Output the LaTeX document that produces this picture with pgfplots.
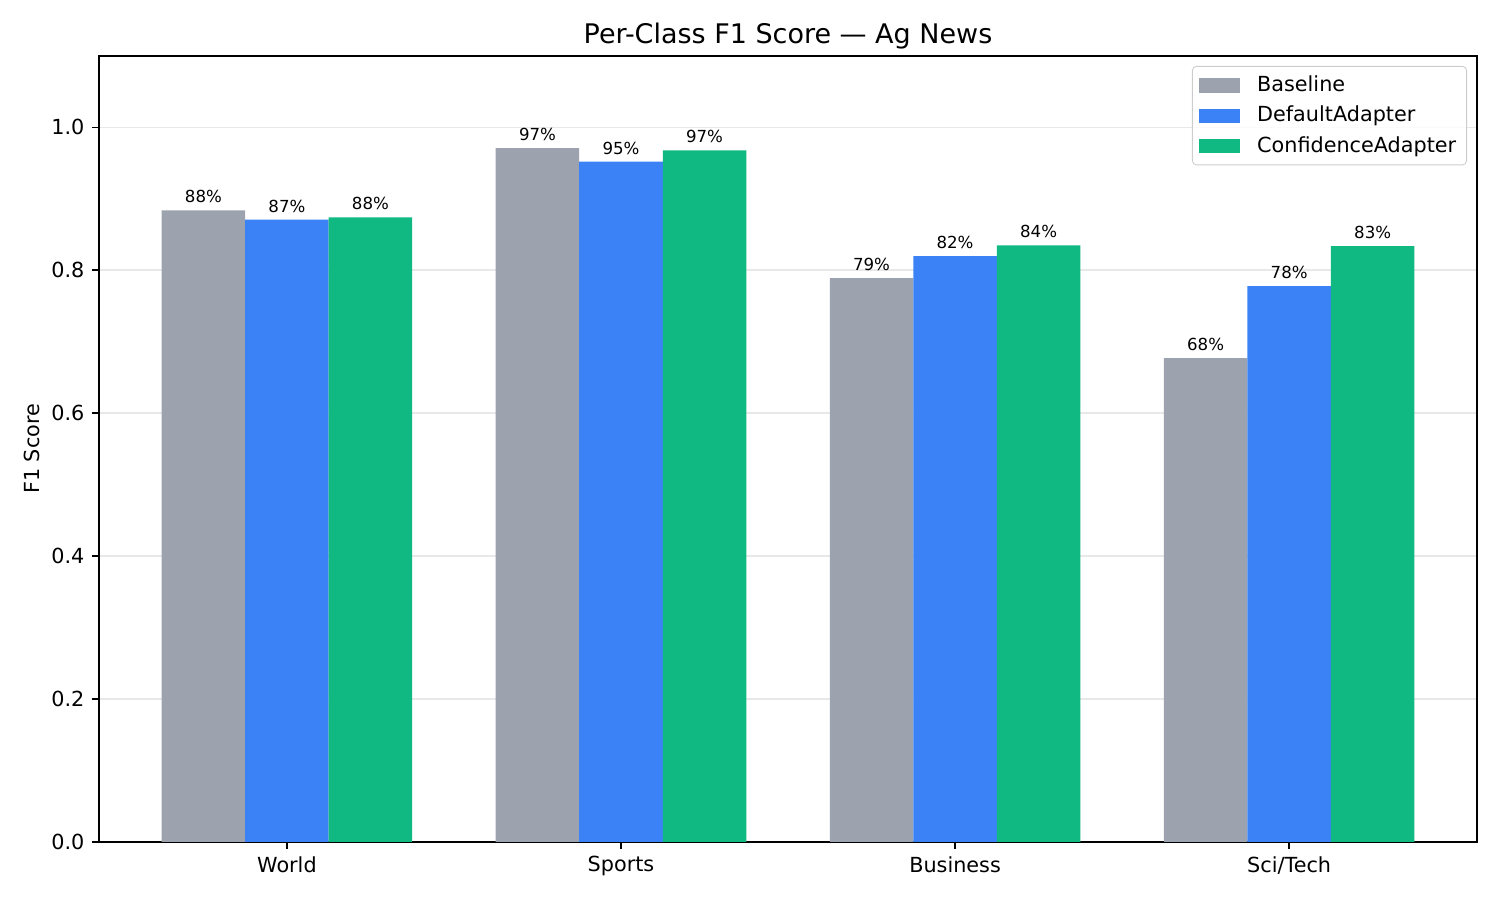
\documentclass[border=0pt]{standalone}
\usepackage{pgfplots}
\pgfplotsset{compat=1.18}
\usepackage{fontspec}
\setmainfont{DejaVu Sans}

\definecolor{cbase}{HTML}{9CA3AF}
\definecolor{cdef}{HTML}{3B82F6}
\definecolor{cconf}{HTML}{10B981}
\definecolor{gridc}{HTML}{E8E8E8}

\begin{document}
\begin{tikzpicture}
\useasboundingbox (-0.66in,-0.387in) rectangle (9.34in,5.613in);
\begin{axis}[
    at={(0,0)}, anchor=south west,
    scale only axis,
    width=9.187in, height=5.24in,
    ybar,
    bar width=0.25,
    xmin=-0.5625, xmax=3.5625,
    ymin=0, ymax=1.1,
    xtick={0,1,2,3},
    xticklabels={World,Sports,Business,Sci/Tech},
    ytick={0,0.2,0.4,0.6,0.8,1.0},
    yticklabel style={/pgf/number format/.cd,fixed,fixed zerofill,precision=1},
    /pgf/number format/assume math mode=true,
    tick label style={font=\fontsize{10}{12}\selectfont},
    tick align=outside,
    tick pos=left,
    major tick length=3.5pt,
    tick style={line width=0.8pt, black},
    axis line style={line width=0.8pt},
    ymajorgrids,
    grid style={gridc, line width=0.8pt},
    title={Per-Class F1 Score — Ag News},
    title style={font=\fontsize{13}{15}\selectfont, at={(0.5,1)}, anchor=base, yshift=0pt},
    ylabel={F1 Score},
    ylabel style={font=\fontsize{10}{12}\selectfont, at={(axis description cs:-0.0486,0.5)}, anchor=center},
    nodes near coords,
    point meta=explicit symbolic,
    every node near coord/.append style={font=\fontsize{8}{9}\selectfont, inner sep=0pt, anchor=south, yshift=3.3pt},
    legend image code/.code={
        \fill[#1, sharp corners, fill opacity=1] (0in,-0.047in) rectangle (0.273in,0.047in);
        \path (0.273in+6.5pt,0);},
    legend cell align=left,
    legend style={at={(0.9927,0.9873)}, anchor=north east,
        draw=black!20, rounded corners=2pt, fill=white, fill opacity=0.8, text opacity=1,
        font=\fontsize{10}{12}\selectfont, row sep=3.4pt, inner ysep=3.7pt,
        nodes={inner ysep=1pt}},
]
% Baseline
\addplot[fill=cbase, draw=none, bar shift=-0.25] coordinates {
    (0,0.884) [88\%]
    (1,0.971) [97\%]
    (2,0.789) [79\%]
    (3,0.677) [68\%]
};
% DefaultAdapter
\addplot[fill=cdef, draw=none, bar shift=0] coordinates {
    (0,0.871) [87\%]
    (1,0.952) [95\%]
    (2,0.820) [82\%]
    (3,0.778) [78\%]
};
% ConfidenceAdapter
\addplot[fill=cconf, draw=none, bar shift=0.25] coordinates {
    (0,0.874) [88\%]
    (1,0.968) [97\%]
    (2,0.835) [84\%]
    (3,0.834) [83\%]
};
\legend{Baseline, DefaultAdapter, ConfidenceAdapter}
\end{axis}
\end{tikzpicture}
\end{document}
